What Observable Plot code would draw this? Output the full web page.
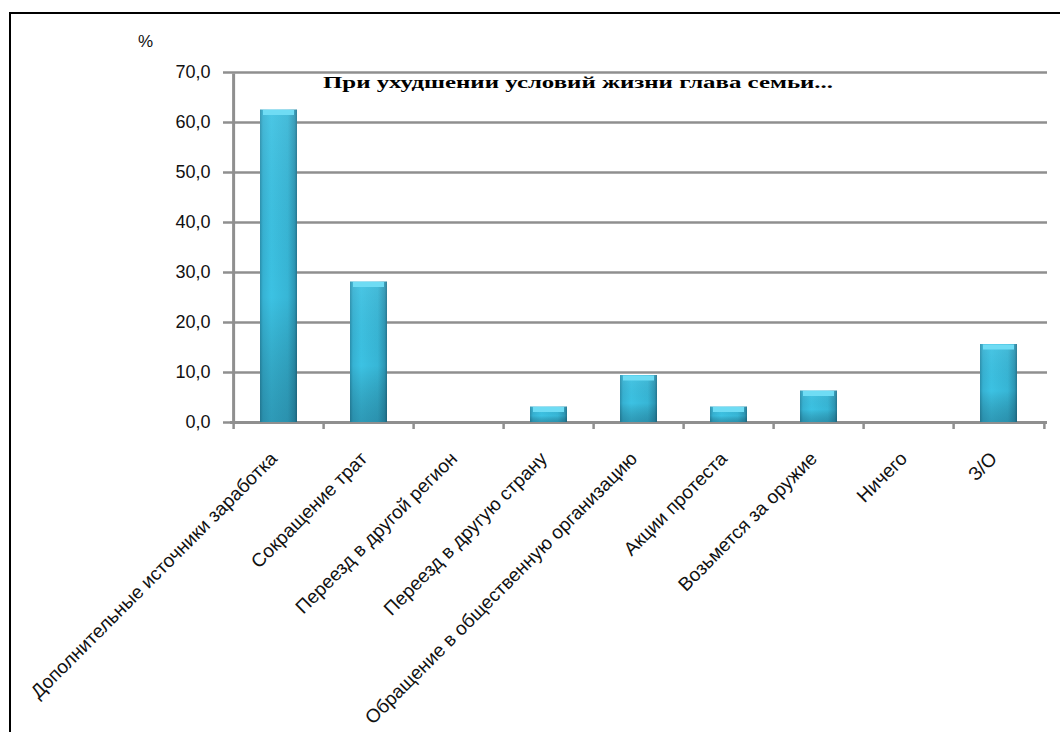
<!DOCTYPE html>
<html>
<head>
<meta charset="utf-8">
<script src="https://cdn.jsdelivr.net/npm/d3@7"></script>
<script src="https://cdn.jsdelivr.net/npm/@observablehq/plot@0.6"></script>
<style>
  html, body { margin: 0; padding: 0; background: #fff; overflow: hidden; }
  #chart { position: relative; width: 1060px; height: 732px; overflow: hidden; }
</style>
</head>
<body>
<div id="chart"></div>
<script>
const categories = [
  "Дополнительные источники заработка",
  "Сокращение трат",
  "Переезд в другой регион",
  "Переезд в другую страну",
  "Обращение в общественную организацию",
  "Акции протеста",
  "Возьмется за оружие",
  "Ничего",
  "З/О"
];
const values = [62.5, 28.1, 0, 3.1, 9.4, 3.1, 6.3, 0, 15.6];
const yTicks = [0, 10, 20, 30, 40, 50, 60, 70];
const titleText = "При ухудшении условий жизни глава семьи...";
const unitText = "%";

const data = categories.map((c, i) => ({category: c, value: values[i]}));

const W = 1060, H = 732;
const mL = 230, mR = 13, mT = 72, mB = 310;
const step = (W - mL - mR) / categories.length;
const grid = "#8f8f8f";
const fmt = d => d.toFixed(1).replace(".", ",");

const plot = Plot.plot({
  width: W,
  height: H,
  marginLeft: mL,
  marginRight: mR,
  marginTop: mT,
  marginBottom: mB,
  style: {fontFamily: "'Liberation Sans', Arial, sans-serif", background: "transparent"},
  x: {domain: categories, paddingInner: 0.59, paddingOuter: 0.295, label: null},
  y: {domain: [0, 70], ticks: yTicks, label: null},
  marks: [
    Plot.ruleY(yTicks.filter(d => d > 0), {stroke: grid, strokeWidth: 2.5}),
    Plot.ruleY([0], {stroke: grid, strokeWidth: 3}),
    Plot.ruleX([categories[0]], {y1: 0, y2: 70, dx: -step / 2, stroke: grid, strokeWidth: 3, insetBottom: -1.5}),
    Plot.ruleX(categories, {y1: 0, y2: 0, dx: -step / 2, stroke: grid, strokeWidth: 2.5, insetBottom: -7}),
    Plot.ruleX([categories[categories.length - 1]], {y1: 0, y2: 0, dx: step / 2, stroke: grid, strokeWidth: 2.5, insetBottom: -7}),
    Plot.barY(data.filter(d => d.value > 0), {x: "category", y: "value", fill: "url(#barGradH)"}),
    Plot.barY(data.filter(d => d.value > 0), {x: "category", y: "value", fill: "url(#barGradV)"}),
    Plot.tickY(data.filter(d => d.value > 0), {x: "category", y: "value", stroke: "#6fdcf4", strokeWidth: 5, dy: 2.5, insetLeft: 3, insetRight: 3}),
    Plot.axisY({ticks: yTicks, tickSize: 7, tickPadding: 13, tickFormat: fmt, stroke: grid, strokeWidth: 2.5, fill: "#111", fontSize: 18, label: null}),
    Plot.axisX({tickSize: 0, tickRotate: -45, tickPadding: 33, dx: -5, fill: "#111", fontSize: 19, label: null})
  ]
});

const svg = d3.select(plot);
const defs = svg.insert("defs", ":first-child");
const gh = defs.append("linearGradient").attr("id", "barGradH").attr("x1", 0).attr("x2", 1).attr("y1", 0).attr("y2", 0);
[[0, "#2a8fac"], [0.08, "#36b2d3"], [0.3, "#3cc2e3"], [0.75, "#37b6d6"], [0.93, "#2d98b6"], [1, "#23758f"]]
  .forEach(([o, c]) => gh.append("stop").attr("offset", o).attr("stop-color", c));
const gv = defs.append("linearGradient").attr("id", "barGradV").attr("x1", 0).attr("x2", 0).attr("y1", 0).attr("y2", 1);
[[0, "rgba(255,255,255,0.08)"], [0.6, "rgba(0,0,0,0)"], [1, "rgba(10,50,70,0.28)"]]
  .forEach(([o, c]) => gv.append("stop").attr("offset", o).attr("stop-color", c));

// chart title (stretched like the original)
svg.append("text")
  .attr("x", 323).attr("y", 88)
  .attr("text-anchor", "start")
  .attr("textLength", 510).attr("lengthAdjust", "spacingAndGlyphs")
  .attr("font-family", "'Liberation Serif', 'Times New Roman', serif")
  .attr("font-weight", "bold").attr("font-size", 17)
  .attr("fill", "#000")
  .text(titleText);

svg.append("text")
  .attr("x", 138).attr("y", 47)
  .attr("text-anchor", "start")
  .attr("font-family", "'Liberation Sans', Arial, sans-serif")
  .attr("font-size", 17).attr("fill", "#111")
  .text(unitText);

// outer frame (top and left edges only visible)
svg.append("path")
  .attr("d", `M10,${H + 5} V13 H${W + 5}`)
  .attr("fill", "none").attr("stroke", "#000").attr("stroke-width", 2);

document.getElementById("chart").appendChild(plot);
</script>
</body>
</html>
